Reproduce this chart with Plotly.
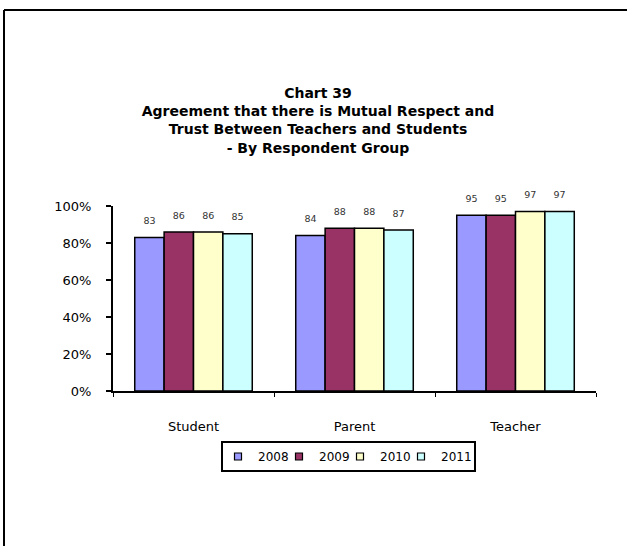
import plotly.graph_objects as go

categories = ["Student", "Parent", "Teacher"]
years = ["2008", "2009", "2010", "2011"]
v2008 = [83, 84, 95]
v2009 = [86, 88, 95]
v2010 = [86, 88, 97]
v2011 = [85, 87, 97]
series = [v2008, v2009, v2010, v2011]
colors = ["#9999FF", "#993366", "#FFFFCC", "#CCFFFF"]
y_ticks = [0, 20, 40, 60, 80, 100]

W, H = 627, 546
L, R, T, B = 113, 596, 206, 391

def px(x):
    return (x - L) / (R - L)

def py(y):
    return (B - y) / (B - T)

FONT = "DejaVu Sans"
GAP = 0.27

# legend box and item layout (pixels)
LEG_X0, LEG_X1, LEG_Y0, LEG_Y1 = 222, 475, 442, 471
LEG_FIRST, LEG_STEP = 218, 61

fig = go.Figure()
for i, (name, vals, c) in enumerate(zip(years, series, colors)):
    fig.add_trace(go.Bar(
        x=categories, y=vals, name=name, showlegend=False,
        offsetgroup=str(i), alignmentgroup="a",
        marker=dict(color=c, line=dict(color="black", width=1.5)),
    ))
for i, vals in enumerate(series):
    fig.add_trace(go.Scatter(
        x=categories, y=vals, mode="markers+text", showlegend=False,
        offsetgroup=str(i), alignmentgroup="a",
        text=[str(v) for v in vals], textposition="top center",
        textfont=dict(size=9.5, color="#333333", family=FONT),
        marker=dict(size=16, opacity=0), cliponaxis=False, hoverinfo="skip",
    ))
legend_names = ["legend", "legend2", "legend3", "legend4"]
for i, (name, c) in enumerate(zip(years, colors)):
    fig.add_trace(go.Scatter(
        x=[None], y=[None], mode="markers", name=name, legend=legend_names[i],
        marker=dict(symbol="square", size=7, color=c, line=dict(color="black", width=1.2)),
    ))

legend_layout = {}
for i, ln in enumerate(legend_names):
    legend_layout[ln] = dict(
        orientation="h", x=px(LEG_FIRST + i * LEG_STEP), y=py((LEG_Y0 + LEG_Y1) / 2),
        xanchor="left", yanchor="middle",
        borderwidth=0, bgcolor="rgba(0,0,0,0)",
        font=dict(size=12, family=FONT, color="black"), itemwidth=30,
    )

fig.update_layout(
    width=W, height=H,
    margin=dict(l=L, r=W - R, t=T, b=H - B, pad=0),
    paper_bgcolor="white", plot_bgcolor="white",
    font=dict(family=FONT, size=13, color="black"),
    barmode="group", bargap=GAP, bargroupgap=0,
    scattermode="group", scattergap=GAP,
    title=dict(
        text="<b>Chart 39<br>Agreement that there is Mutual Respect and<br>Trust Between Teachers and Students<br>- By Respondent Group</b>",
        x=318 / W, xanchor="center", y=1 - 98 / H, yanchor="top",
        font=dict(size=14, family=FONT, color="black"),
    ),
    showlegend=True,
    **legend_layout,
    xaxis=dict(
        showline=True, linecolor="black", linewidth=2,
        ticks="outside", ticklen=4, tickcolor="black", tickwidth=1,
        tickson="boundaries", showgrid=False, ticklabelstandoff=22,
        tickfont=dict(size=13),
    ),
    yaxis=dict(
        range=[0, 100], tickmode="array", tickvals=y_ticks,
        ticktext=[f"{v}%" for v in y_ticks],
        showline=True, linecolor="black", linewidth=2,
        ticks="outside", ticklen=5, tickcolor="black", tickwidth=2,
        showgrid=False, zeroline=False, tickfont=dict(size=13),
        ticklabelstandoff=12,
    ),
    shapes=[
        # outer frame (only top and left edges fall inside the picture)
        dict(type="line", xref="paper", yref="paper",
             x0=px(4), x1=px(700), y0=py(10), y1=py(10),
             line=dict(color="black", width=2)),
        dict(type="line", xref="paper", yref="paper",
             x0=px(4), x1=px(4), y0=py(10), y1=py(600),
             line=dict(color="black", width=2)),
        # legend box
        dict(type="rect", xref="paper", yref="paper",
             x0=px(LEG_X0), x1=px(LEG_X1), y0=py(LEG_Y1), y1=py(LEG_Y0),
             line=dict(color="black", width=2), fillcolor="white", layer="below"),
    ],
)

fig.write_html(
    "out.html",
    config={"displayModeBar": False},
    post_script="document.body.style.margin='0px';document.body.style.overflow='hidden';",
)
